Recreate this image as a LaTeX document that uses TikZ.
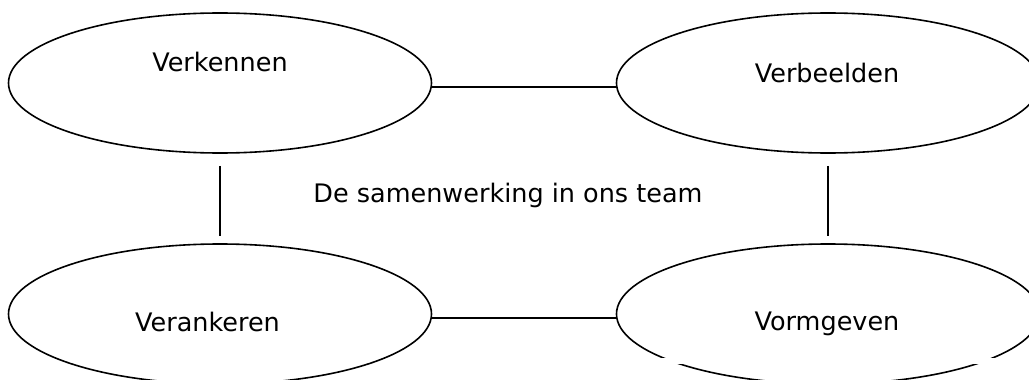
\documentclass[tikz,border=0pt]{standalone}
\usepackage{fontspec}
\setmainfont{DejaVu Sans}
\usetikzlibrary{shapes.geometric}

\begin{document}
\begin{tikzpicture}[x=1pt,y=-1pt,
  phase/.style={draw=black, line width=1.6pt, ellipse, inner sep=0pt,
                minimum width=423pt, minimum height=140pt},
  word/.style={anchor=base, inner sep=0pt, font=\fontsize{25.5}{30}\selectfont},
  link/.style={draw=black, line width=1.6pt}]
  \useasboundingbox (0,0) rectangle (1029,380);
  \begin{scope}
    \clip (0,0) rectangle (1029,380);

    % the four phases
    \node[phase] (tl) at (220,83) {};
    \node[phase] (tr) at (828,83) {};
    \node[phase] (bl) at (220,314) {};
    \node[phase] (br) at (828,314) {};

    % white strip across the lower phase on the right
    \fill[white] (655,358) rectangle (1000,364);

    % labels
    \node[word] (lblA) at (220,71) {Verkennen};
    \node[word] (lblB) at (827,82) {Verbeelden};
    \node[word] (lblC) at (508,202) {De samenwerking in ons team};
    \node[word] (lblD) at (207.5,331) {Verankeren};
    \node[word] (lblE) at (827,330) {Vormgeven};

    % connectors
    \draw[link] (tl.-1.6) -- (tr.181.6);
    \draw[link] (bl.-1.6) -- (br.181.6);
    \draw[link] ([yshift=-12pt]tl.south) -- ([yshift=7pt]bl.north);
    \draw[link] ([yshift=-12pt]tr.south) -- ([yshift=7pt]br.north);
  \end{scope}
\end{tikzpicture}
\end{document}
